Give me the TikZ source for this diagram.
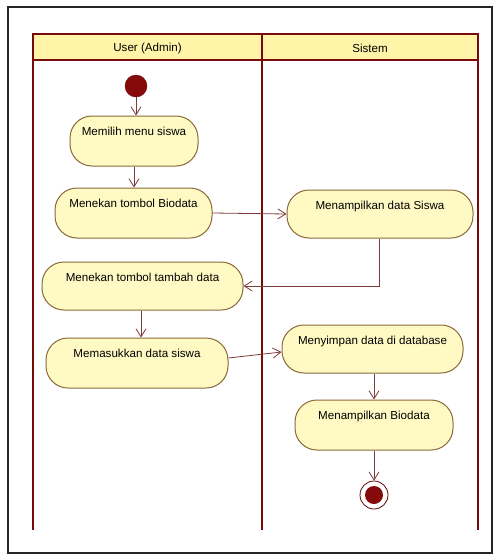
\documentclass[tikz,border=0pt]{standalone}
\usepackage{fontspec}
\setmainfont{Liberation Sans}
\usetikzlibrary{arrows.meta}
\definecolor{lane}{HTML}{7A0A0A}
\definecolor{headfill}{HTML}{FFF4A8}
\definecolor{actfill}{HTML}{FFFAC4}
\definecolor{actline}{HTML}{8A6A3A}
\definecolor{flow}{HTML}{7E3B3B}
\definecolor{dot}{HTML}{850A0A}
\tikzset{
  activity/.style={draw=actline, fill=actfill, line width=1pt, rounded corners=22pt,
    font=\fontsize{11.6}{13}\selectfont, inner xsep=4pt, inner ysep=5pt,
    text height=14pt, anchor=center},
  flowline/.style={draw=flow, line width=0.8pt, -{Straight Barb[length=8pt,width=10pt,line width=0.8pt]}},
  lanehead/.style={font=\fontsize{11.6}{13}\selectfont},
}
\newcommand{\act}[6]{% name, cx, cy, width, height, text
  \node[activity, minimum width=#4pt, text depth=#5pt-24pt] (#1) at (#2,#3) {#6};}
\begin{document}
\begin{tikzpicture}[x=1pt,y=-1pt]
\useasboundingbox (0,0) rectangle (493,555);
\fill[white] (0,0) rectangle (493,555);
% outer frame
\draw[black!85, line width=1.6pt] (8,7) rectangle (492,553);
% swimlanes
\fill[headfill] (33,34) rectangle (478,60);
\draw[lane, line width=1.6pt] (33,530) -- (33,34) -- (478,34) -- (478,530);
\draw[lane, line width=1.6pt] (262,34) -- (262,530);
\draw[lane, line width=1.2pt] (33,60) -- (478,60);
\node[lanehead] (laneA) at (147.5,48) {User (Admin)};
\node[lanehead] (laneB) at (370,48) {Sistem};
% start
\node[circle, fill=dot, draw=dot!80!black, minimum size=22pt, inner sep=0pt] (start) at (136,86) {};
% activities
\act{n1}{134}{141}{128}{50}{Memilih menu siswa}
\act{n2}{133.5}{213}{157}{50}{Menekan tombol Biodata}
\act{n3}{380}{214}{186}{48}{Menampilkan data Siswa}
\act{n4}{142.5}{286}{201}{48}{Menekan tombol tambah data}
\act{n5}{137}{363}{182}{50}{Memasukkan data siswa}
\act{n6}{372.5}{349}{181}{48}{Menyimpan data di database}
\act{n7}{374}{425}{158}{50}{Menampilkan Biodata}
% end
\node[circle, draw=dot!70!black, fill=white, line width=0.8pt, minimum size=28pt, inner sep=0pt] (end) at (374,495) {};
\node[circle, fill=dot, minimum size=18pt, inner sep=0pt] (endin) at (end.center) {};
% flows
\draw[flowline] (start.south) -- (start.south |- n1.north);
\draw[flowline] (n1.south) -- (n1.south |- n2.north);
\draw[flowline] (n2.east) -- (n3.west);
\draw[flowline] ([xshift=-1pt]n3.south) |- (n4.east);
\draw[flowline] ([xshift=-1.5pt]n4.south) -- ([xshift=-1.5pt]n4.south |- n5.north);
\draw[flowline] ([yshift=5pt]n5.east) -- ([yshift=-3pt]n6.west);
\draw[flowline] (n7.north |- n6.south) -- (n7.north);
\draw[flowline] (n7.south) -- (end.north);
\end{tikzpicture}
\end{document}
